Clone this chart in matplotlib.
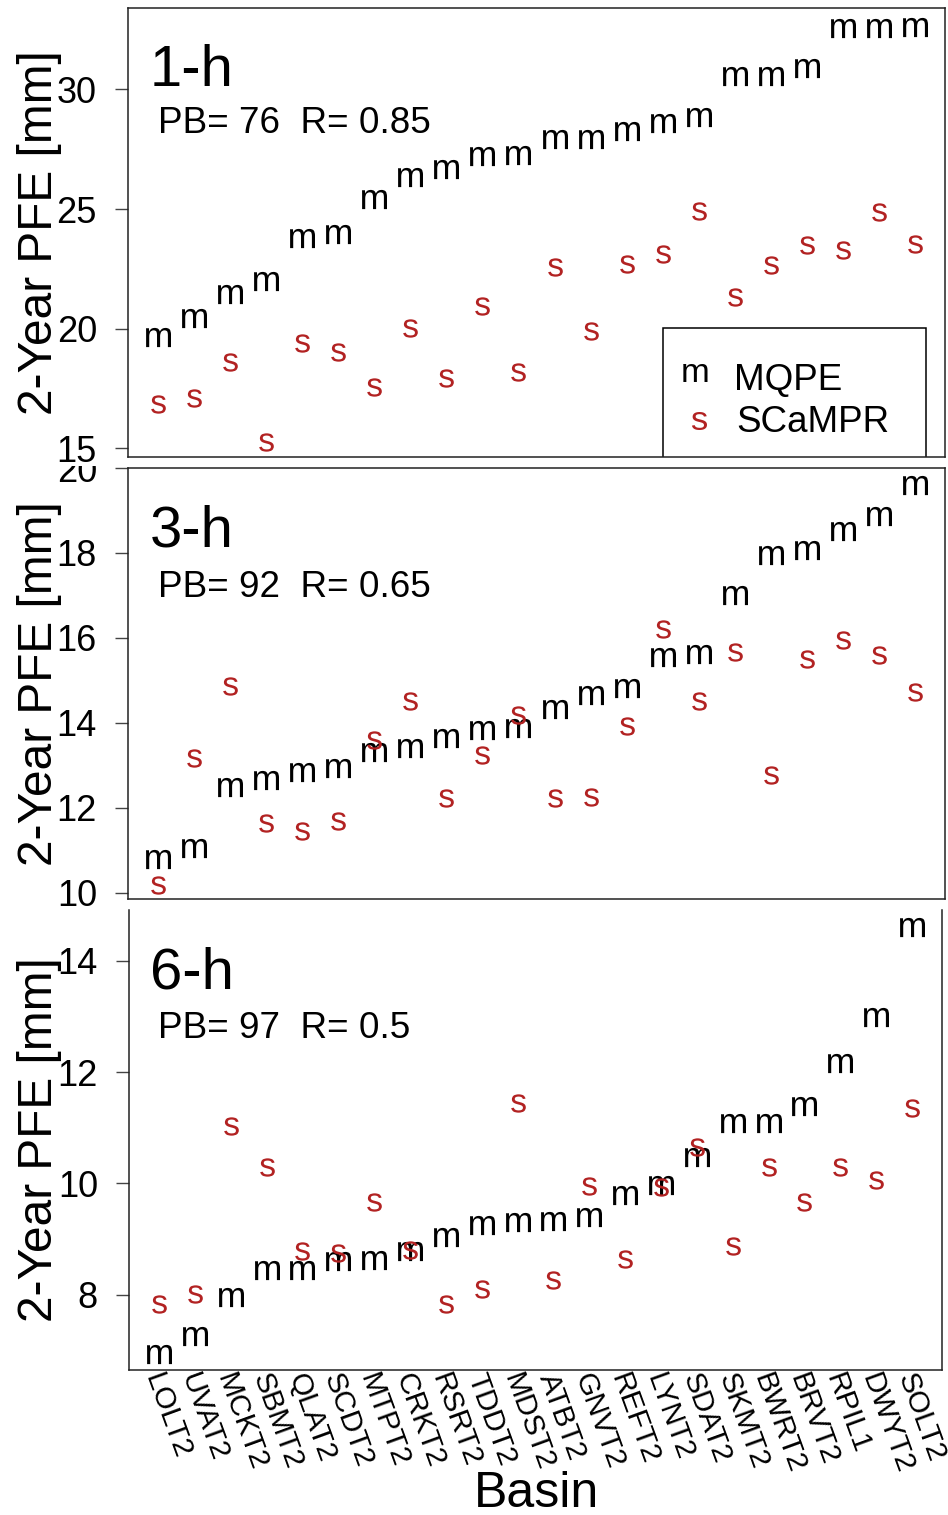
import numpy as np
import matplotlib
matplotlib.use('Agg')
import matplotlib.pyplot as plt
from matplotlib.patches import Rectangle
from matplotlib.transforms import Bbox, TransformedBbox, ScaledTranslation

plt.rcParams['font.family'] = ['Liberation Sans', 'DejaVu Sans']
plt.rcParams['mathtext.fontset'] = 'custom'
plt.rcParams['mathtext.rm'] = 'Liberation Sans'
plt.rcParams['mathtext.it'] = 'Liberation Sans:italic'
plt.rcParams['mathtext.bf'] = 'Liberation Sans:bold'

# ---------------- data ----------------
basins = ['LOLT2', 'UVAT2', 'MCKT2', 'SBMT2', 'QLAT2', 'SCDT2', 'MTPT2', 'CRKT2',
          'RSRT2', 'TDDT2', 'MDST2', 'ATBT2', 'GNVT2', 'REFT2', 'LYNT2', 'SDAT2',
          'SKMT2', 'BWRT2', 'BRVT2', 'RPIL1', 'DWYT2', 'SOLT2']

mqpe_1h = [19.64, 20.43, 21.43, 21.99, 23.77, 23.96, 25.42, 26.35, 26.66, 27.21, 27.24,
           27.91, 27.92, 28.26, 28.58, 28.83, 30.57, 30.57, 30.88, 32.55, 32.55, 32.62]
scampr_1h = [16.85, 17.09, 18.59, 15.25, 19.39, 19.01, 17.58, 20.04, 17.95, 20.95, 18.18,
             22.59, 19.90, 22.69, 23.11, 24.90, 21.34, 22.66, 23.51, 23.29, 24.86, 23.54]

mqpe_3h = [10.79, 11.04, 12.49, 12.65, 12.85, 12.93, 13.32, 13.41, 13.63, 13.83, 13.88,
           14.32, 14.65, 14.81, 15.55, 15.63, 17.00, 17.95, 18.06, 18.51, 18.87, 19.61]
scampr_3h = [10.18, 13.18, 14.87, 11.63, 11.45, 11.69, 13.59, 14.52, 12.22, 13.24, 14.18,
             12.24, 12.26, 13.93, 16.22, 14.52, 15.67, 12.78, 15.51, 15.95, 15.59, 14.73]

mqpe_6h = [6.93, 7.26, 7.96, 8.44, 8.44, 8.61, 8.62, 8.79, 9.03, 9.25, 9.30,
           9.33, 9.40, 9.79, 9.97, 10.47, 11.08, 11.08, 11.39, 12.16, 12.99, 14.60]
scampr_6h = [7.83, 8.02, 11.04, 10.30, 8.78, 8.75, 9.67, 8.80, 7.83, 8.11, 11.44,
             8.26, 9.96, 8.65, 9.94, 10.66, 8.88, 10.29, 9.67, 10.30, 10.07, 11.36]

durations = ['1-h', '3-h', '6-h']
pb_values = [76, 92, 97]
r_values = [0.85, 0.65, 0.5]
yticks_list = [[15, 20, 25, 30], [10, 12, 14, 16, 18, 20], [8, 10, 12, 14]]
series_labels = ['MQPE', 'SCaMPR']

# ---------------- layout / style ----------------
W, H, DPI = 948, 1515, 100
fig = plt.figure(figsize=(W / DPI, H / DPI), dpi=DPI)
fig.patch.set_facecolor('white')

def rect_px(l, r, t, b):
    return [l / W, 1 - b / H, (r - l) / W, (b - t) / H]

rects = [(128, 945, 8, 457), (128, 945, 468, 899), (129, 942, 910, 1370)]
ylims = [(14.64, 33.40), (9.85, 19.99), (6.65, 14.91)]
lab_base = [86.5, 547, 989]
pb_base = [133, 597, 1038]

M_COLOR = 'black'
S_COLOR = '#B22222'
PT = 72.0 / DPI
SYM_FS = 34.5 * PT

m_marker = r'$\mathrm{m}$'
s_marker = r'$\mathrm{s}$'
ms_m = 18.0
ms_s = 13.2

x = np.arange(1, len(basins) + 1)
mq = [mqpe_1h, mqpe_3h, mqpe_6h]
sc = [scampr_1h, scampr_3h, scampr_6h]

axes = []
for i in range(3):
    l, r, t, b = rects[i]
    ax = fig.add_axes(rect_px(l, r, t, b))
    axes.append(ax)
    ax.plot(x, mq[i], linestyle='none', marker=m_marker, markersize=ms_m,
            markeredgewidth=0, color=M_COLOR)
    ax.plot(x, sc[i], linestyle='none', marker=s_marker, markersize=ms_s,
            markeredgewidth=0, color=S_COLOR)
    ax.set_xlim(0.16, len(basins) + 0.84)
    ax.set_ylim(*ylims[i])
    ax.set_yticks(yticks_list[i])
    ax.set_yticklabels([str(v) for v in yticks_list[i]])
    ax.tick_params(axis='y', direction='out', length=9.4, width=1.0, pad=13,
                   labelsize=26, color='#444444')
    for sp in ax.spines.values():
        sp.set_linewidth(1.1)
        sp.set_color('#222222')
    if i < 2:
        ax.set_xticks([])
    else:
        ax.spines['top'].set_visible(False)
        ax.set_xticks(x)
        ax.set_xticklabels(basins)
        ax.tick_params(axis='x', length=0, pad=3, labelsize=21.5)
        shift = ScaledTranslation(-7 / DPI, 0, fig.dpi_scale_trans)
        for lab in ax.get_xticklabels():
            lab.set_rotation(-70)
            lab.set_rotation_mode('anchor')
            lab.set_ha('left')
            lab.set_va('center')
            lab.set_transform(lab.get_transform() + shift)

    # panel texts
    fig.text(150 / W, 1 - lab_base[i] / H, durations[i], fontsize=41.8,
             ha='left', va='baseline')
    fig.text(158 / W, 1 - pb_base[i] / H,
             f'PB= {pb_values[i]}  R= {r_values[i]}', fontsize=26.6,
             ha='left', va='baseline')
    # y label
    yc = (t + b) / 2
    fig.text(52 / W, 1 - yc / H, '2-Year PFE [mm]', fontsize=34.5, rotation=90,
             rotation_mode='anchor', ha='center', va='baseline')

# legend in panel 1 (box clipped by the plot region)
ax1 = axes[0]
l, r, t, b = rects[0]
def fx(px):
    return (px - l) / (r - l)
def fy(py):
    return (b - py) / (b - t)
box = Rectangle((fx(663), -0.2), fx(926) - fx(663), fy(328) + 0.2,
                transform=ax1.transAxes, fill=False, edgecolor='black',
                linewidth=1.1, clip_on=True)
ax1.add_patch(box)
ax1.text(fx(695.5), fy(382), 'm', transform=ax1.transAxes, fontsize=SYM_FS,
         color=M_COLOR, ha='center', va='baseline')
ax1.text(fx(699), fy(430), 's', transform=ax1.transAxes, fontsize=SYM_FS,
         color=S_COLOR, ha='center', va='baseline')
ax1.text(fx(734), fy(390), series_labels[0], transform=ax1.transAxes,
         fontsize=26.5, ha='left', va='baseline')
ax1.text(fx(736), fy(432), series_labels[1], transform=ax1.transAxes,
         fontsize=26.5, ha='left', va='baseline')

fig.text(536 / W, 1 - 1507 / H, 'Basin', fontsize=36, ha='center', va='baseline')

# clip panel-2 tick labels at the top of its figure region (like the original)
fig.canvas.draw()
clip = TransformedBbox(Bbox.from_extents(0, 0, 1, 1 - 466 / H), fig.transFigure)
for lab in axes[1].get_yticklabels():
    lab.set_clip_box(clip)
    lab.set_clip_on(True)

fig.savefig('out.png', dpi=DPI, facecolor='white')
